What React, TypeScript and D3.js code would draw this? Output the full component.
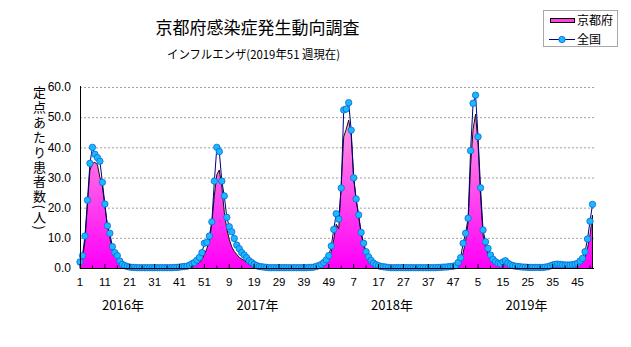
import React from "react";
import * as d3 from "d3";

const years = [2016, 2017, 2018, 2019];
const weeksPerYear = [52, 52, 52, 51];

// 全国 (national) per-sentinel counts, weekly
const national2016 = [2.0,4.1,10.6,22.5,34.7,40.0,37.7,36.6,35.4,28.4,21.2,14.0,11.5,7.1,5.1,4.1,2.3,1.2,0.8,0.5,0.3,0.2,0.2,0.1,0.1,0.1,0.1,0.1,0.1,0.1,0.1,0.1,0.1,0.1,0.1,0.1,0.1,0.1,0.2,0.2,0.3,0.4,0.5,0.6,0.9,1.4,1.8,2.6,3.5,5.1,8.2,8.5];
const national2017 = [10.6,15.3,28.8,40.0,38.6,28.8,23.9,16.8,13.7,12.0,9.8,7.6,6.4,5.1,4.3,3.4,2.4,1.8,1.2,0.8,0.5,0.4,0.3,0.2,0.1,0.1,0.1,0.1,0.1,0.1,0.1,0.1,0.1,0.1,0.1,0.1,0.1,0.1,0.1,0.1,0.2,0.2,0.3,0.5,0.8,1.2,1.8,2.7,4.1,7.3,12.8,18.0];
const national2018 = [16.2,26.5,52.4,52.7,54.8,45.7,29.9,22.9,17.6,11.8,8.2,5.4,3.7,2.5,1.6,1.1,0.8,0.5,0.4,0.3,0.2,0.1,0.1,0.1,0.1,0.1,0.1,0.1,0.1,0.1,0.1,0.1,0.1,0.1,0.1,0.1,0.1,0.1,0.1,0.1,0.2,0.2,0.3,0.3,0.4,0.5,0.6,0.8,1.8,3.4,8.2,11.5];
const national2019 = [16.5,38.9,54.6,57.3,43.5,26.6,12.6,8.7,6.5,4.3,2.9,2.1,1.6,1.4,2.0,2.4,1.6,1.1,0.8,0.6,0.5,0.4,0.3,0.3,0.2,0.2,0.2,0.2,0.2,0.2,0.2,0.3,0.4,0.7,1.0,1.2,1.3,1.2,1.1,1.0,1.0,1.0,1.1,1.3,1.5,2.3,3.2,5.4,9.6,15.5,21.1];

// 京都府 (Kyoto) per-sentinel counts, weekly
const kyoto2016 = [1.0,3.0,9.0,21.0,32.5,34.7,35.0,34.3,30.0,27.0,20.5,14.0,10.0,6.5,4.5,3.0,1.8,1.0,0.6,0.4,0.2,0.1,0.1,0.1,0.1,0.1,0.1,0.0,0.0,0.0,0.0,0.0,0.0,0.0,0.0,0.1,0.1,0.1,0.1,0.1,0.1,0.1,0.2,0.3,0.4,0.6,0.9,1.3,1.8,2.8,4.5,6.5];
const kyoto2017 = [9.0,15.0,24.0,31.0,32.5,27.0,18.5,13.0,9.5,7.0,5.5,4.5,3.5,3.0,2.5,1.8,1.2,0.8,0.5,0.3,0.2,0.1,0.1,0.1,0.1,0.1,0.1,0.1,0.0,0.0,0.0,0.0,0.0,0.0,0.0,0.1,0.1,0.1,0.1,0.1,0.1,0.1,0.2,0.3,0.5,0.8,1.2,1.8,2.8,5.5,9.5,14.5];
const kyoto2018 = [13.0,28.0,43.5,46.0,49.0,44.0,30.0,22.5,17.0,11.5,7.5,4.5,3.0,2.0,1.3,0.8,0.5,0.3,0.2,0.1,0.1,0.1,0.1,0.1,0.1,0.0,0.0,0.0,0.0,0.0,0.0,0.0,0.0,0.1,0.1,0.1,0.1,0.1,0.1,0.1,0.1,0.1,0.1,0.2,0.2,0.3,0.4,0.6,1.2,2.5,5.0,9.0];
const kyoto2019 = [15.0,34.0,46.0,51.0,41.0,24.0,11.0,7.0,4.5,3.0,2.2,1.6,1.3,1.5,1.8,1.6,1.2,0.8,0.5,0.4,0.3,0.2,0.2,0.2,0.2,0.2,0.2,0.2,0.2,0.2,0.2,0.3,0.4,0.5,0.7,0.8,0.8,0.8,0.7,0.7,0.7,0.7,0.8,0.9,1.0,1.3,2.0,3.5,6.5,11.0,17.5];

const yTicks = [0, 10, 20, 30, 40, 50, 60];
const titleText = "京都府感染症発生動向調査";
const subtitleText = "インフルエンザ(2019年51 週現在)";
const yTitleText = "定点あたり患者数(人)";
const seriesNames = ["京都府", "全国"];

const national = [...national2016, ...national2017, ...national2018, ...national2019];
const kyoto = [...kyoto2016, ...kyoto2017, ...kyoto2018, ...kyoto2019];

// week number labels for each category
const weekNums: number[] = [];
weeksPerYear.forEach((n) => {
  for (let w = 1; w <= n; w++) weekNums.push(w);
});

const JP = "'Noto Sans CJK JP', 'Noto Sans', sans-serif";
const NUM = "'Liberation Sans', Arial, sans-serif";

export default function App() {
  const n = national.length;
  const x = d3.scaleLinear().domain([0, n - 1]).range([80, 592.5]);
  const y = d3.scaleLinear().domain([0, 60]).range([268, 87]);
  const plotRight = 594;

  const area = d3
    .area<number>()
    .x((_, i) => x(i))
    .y0(y(0))
    .y1((d) => y(d));
  const kyotoLine = d3
    .line<number>()
    .x((_, i) => x(i))
    .y((d) => y(d));
  const natLine = d3
    .line<number>()
    .x((_, i) => x(i))
    .y((d) => y(d));

  const tickIdx = d3.range(0, n, 10);
  const minorIdx = d3.range(5, n, 10);
  const yearLabelX = d3.scaleLinear().domain([0, years.length - 1]).range([123, 526.5]);

  return (
    <svg width={631} height={347} style={{ position: "absolute", left: 0, top: 0, background: "#fff" }}>
      <defs>
        <linearGradient id="kg" gradientUnits="userSpaceOnUse" x1="0" y1={y(60)} x2="0" y2={y(0)}>
          <stop offset="0%" stopColor="#FFB8DC" />
          <stop offset="100%" stopColor="#FF00F8" />
        </linearGradient>
      </defs>
      <rect x={0} y={0} width={631} height={347} fill="#fff" />

      {/* title */}
      <text x={257.5} y={33.5} fontFamily={JP} fontSize={17} textAnchor="middle" fill="#000">
        {titleText}
      </text>
      <text x={167} y={59} fontFamily={JP} fontSize={12} textLength={173} lengthAdjust="spacingAndGlyphs" fill="#000">
        {subtitleText}
      </text>

      {/* gridlines */}
      {yTicks.filter((t) => t > 0).map((t) => (
        <line key={t} x1={80} x2={plotRight} y1={y(t) + 0.5} y2={y(t) + 0.5} stroke="#A0A0A0" strokeDasharray="2,2" />
      ))}

      {/* Kyoto area */}
      <path d={area(kyoto) || ""} fill="url(#kg)" />
      <path d={kyotoLine(kyoto) || ""} fill="none" stroke="#101010" strokeWidth={1} />
      <line x1={x(n - 1)} x2={x(n - 1)} y1={y(kyoto[n - 1])} y2={y(0)} stroke="#101010" />

      {/* national */}
      <path d={natLine(national) || ""} fill="none" stroke="#000080" strokeWidth={1} />
      {national.map((v, i) => (
        <circle key={i} cx={x(i)} cy={y(v)} r={3.2} fill="#1CB8FF" stroke="#0868D8" strokeWidth={0.8} />
      ))}

      {/* axes */}
      <line x1={80.5} x2={80.5} y1={86} y2={268.5} stroke="#000" />
      <line x1={80} x2={plotRight} y1={268.5} y2={268.5} stroke="#000" />
      {tickIdx.map((i) => (
        <line key={"t" + i} x1={x(i)} x2={x(i)} y1={268.5} y2={264} stroke="#000" />
      ))}
      {minorIdx.map((i) => (
        <line key={"m" + i} x1={x(i)} x2={x(i)} y1={268.5} y2={265.5} stroke="#000" />
      ))}

      {yTicks.map((t) => (
        <text key={t} x={71} y={y(t) + 4.3} fontFamily={NUM} fontSize={12} textAnchor="end" fill="#000">
          {t.toFixed(1)}
        </text>
      ))}
      {tickIdx.map((i) => (
        <text key={"l" + i} x={x(i)} y={286} fontFamily={NUM} fontSize={11.5} textAnchor="middle" fill="#000">
          {weekNums[i]}
        </text>
      ))}
      {years.map((yr, k) => (
        <text key={yr} x={yearLabelX(k)} y={310} fontFamily={JP} fontSize={13} textAnchor="middle" fill="#000">
          {yr + "年"}
        </text>
      ))}

      {/* vertical y title */}
      <text
        x={39.5}
        y={86}
        fontFamily={JP}
        fontSize={13}
        fill="#000"
        textLength={144}
        lengthAdjust="spacing"
        style={{ writingMode: "vertical-rl", textOrientation: "mixed" } as React.CSSProperties}
      >
        {yTitleText}
      </text>

      {/* legend */}
      <rect x={543.5} y={10.5} width={74} height={36} fill="#fff" stroke="#A8A8A8" />
      <rect x={550.5} y={18.5} width={24} height={4} fill="#FF40E0" stroke="#000" />
      <text x={577} y={25} fontFamily={JP} fontSize={12} fill="#000">
        {seriesNames[0]}
      </text>
      <line x1={549} x2={575} y1={39.5} y2={39.5} stroke="#000080" />
      <circle cx={562} cy={39.5} r={3.2} fill="#1CB8FF" stroke="#0868D8" strokeWidth={0.8} />
      <text x={577} y={44} fontFamily={JP} fontSize={12} fill="#000">
        {seriesNames[1]}
      </text>
    </svg>
  );
}
